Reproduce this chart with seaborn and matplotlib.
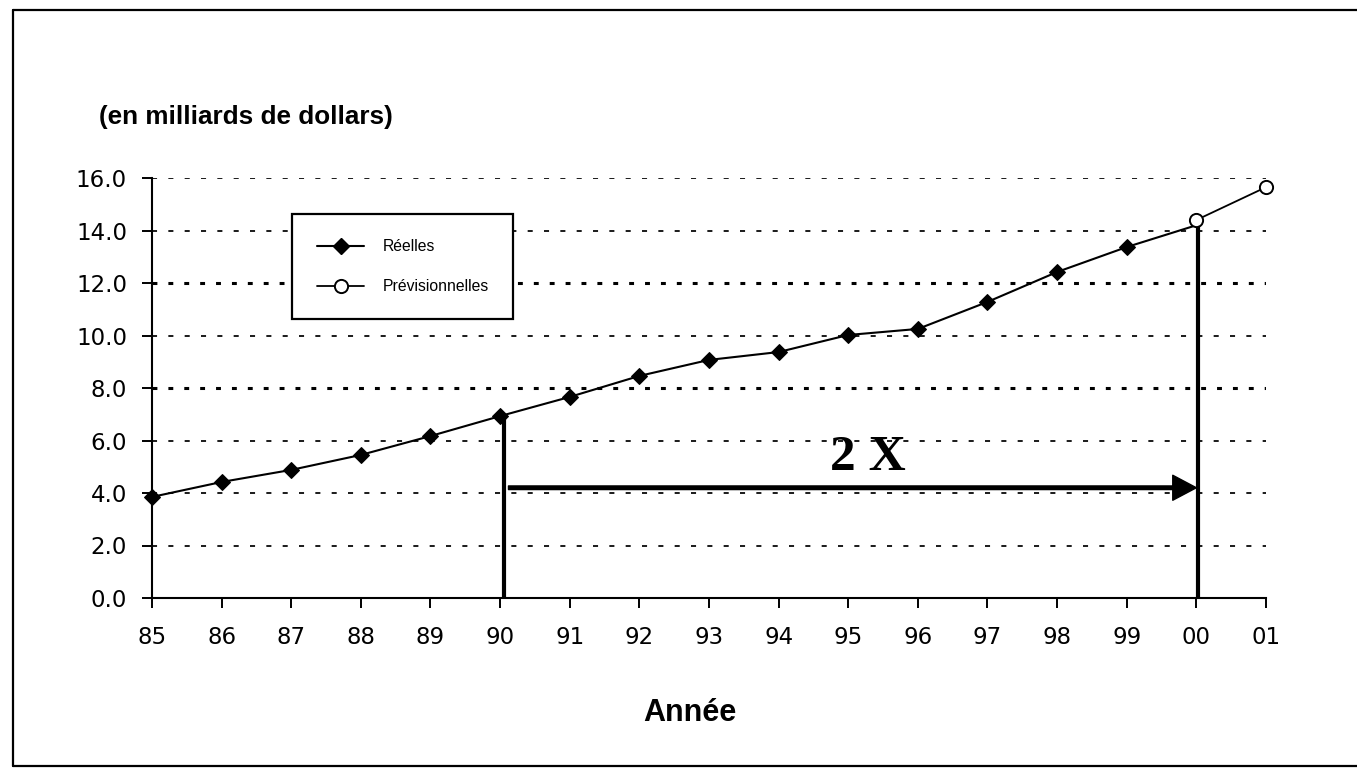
import numpy as np
import pandas as pd
import matplotlib
matplotlib.use("Agg")
import matplotlib.pyplot as plt
from matplotlib.lines import Line2D
import seaborn as sns

# ---------------- data ----------------
years = ["85", "86", "87", "88", "89", "90", "91", "92", "93", "94",
         "95", "96", "97", "98", "99", "00", "01"]
reelles = [3.85, 4.42, 4.88, 5.45, 6.17, 6.93, 7.66, 8.46, 9.07, 9.37,
           10.02, 10.25, 11.28, 12.42, 13.37, 14.2]
previsionnelles_years = ["00", "01"]
previsionnelles = [14.4, 15.65]
y_ticks = [0, 2, 4, 6, 8, 10, 12, 14, 16]
arrow_from, arrow_to = "90", "00"
arrow_level = 4.2
label_real = "Réelles"
label_prev = "Prévisionnelles"

# ---------------- style ----------------
sns.set_style("white")
plt.rcParams["font.family"] = ["DejaVu Sans"]
plt.rcParams["text.color"] = "black"
plt.rcParams["xtick.color"] = "black"
plt.rcParams["ytick.color"] = "black"

W, H = 1357, 770
fig = plt.figure(figsize=(W / 100, H / 100), dpi=100)
ax = fig.add_axes([152 / W, (H - 598) / H, (1266 - 152) / W, 420 / H])

pos = {y: i for i, y in enumerate(years)}
df_real = pd.DataFrame({"x": [pos[y] for y in years[:len(reelles)]], "v": reelles})
df_prev = pd.DataFrame({"x": [pos[y] for y in previsionnelles_years], "v": previsionnelles})

# gridlines
for t in y_ticks[1:]:
    if t in (8, 12):
        ax.axhline(t, color="black", lw=2.2, ls=(0, (1.6, 3.6)), zorder=1)
    else:
        ax.axhline(t, color="#1a1a1a", lw=1.4, ls=(0, (2.6, 5.8)), zorder=1)

# vertical guide lines and arrow
i0, i1 = pos[arrow_from], pos[arrow_to]
ax.plot([i0 + 0.05, i0 + 0.05], [0, reelles[i0]], color="black", lw=3, zorder=3,
        solid_capstyle="butt")
ax.plot([i1 + 0.03, i1 + 0.03], [0, reelles[i1]], color="black", lw=3, zorder=3,
        solid_capstyle="butt")
ax.annotate("", xy=(i1, arrow_level), xytext=(i0 + 0.12, arrow_level),
            arrowprops=dict(facecolor="black", edgecolor="black", width=2.6,
                            headwidth=18, headlength=17, shrink=0),
            zorder=4)
ax.text((i0 + i1) / 2 + 0.28, 4.88, "2 X", family="Liberation Serif",
        fontweight="bold", fontsize=37, ha="center", va="baseline", zorder=5,
        color="black")

# data series
sns.lineplot(data=df_real, x="x", y="v", ax=ax, color="black", lw=1.5,
             marker="D", markersize=8.5, markevery=list(range(len(reelles) - 1)),
             markerfacecolor="black", markeredgecolor="black", clip_on=False,
             zorder=6, legend=False)
sns.lineplot(data=df_prev, x="x", y="v", ax=ax, color="black", lw=1.3,
             marker="o", markersize=9.5, markerfacecolor="white",
             markeredgecolor="black", markeredgewidth=1.4, clip_on=False,
             zorder=7, legend=False)

# axes
ax.set_xlim(0, len(years) - 1)
ax.set_ylim(0, 16)
ax.set_xticks(range(len(years)))
ax.set_xticklabels(years)
ax.set_yticks(y_ticks)
ax.set_yticklabels([f"{t:.1f}" for t in y_ticks])
ax.set_xlabel("")
ax.set_ylabel("")
for s in ("top", "right"):
    ax.spines[s].set_visible(False)
for s in ("left", "bottom"):
    ax.spines[s].set_color("black")
    ax.spines[s].set_linewidth(1.5)
ax.tick_params(axis="both", direction="out", length=7, width=1.4, color="black",
               labelsize=16.5, labelcolor="black", left=True, bottom=True)
ax.tick_params(axis="y", pad=11)
ax.tick_params(axis="x", pad=13)
ax.grid(False)

# legend
handles = [
    Line2D([], [], color="black", lw=1.5, marker="D", markersize=8.5,
           markerfacecolor="black"),
    Line2D([], [], color="black", lw=1.3, marker="o", markersize=9.5,
           markerfacecolor="white", markeredgewidth=1.4),
]
leg = ax.legend(handles, [label_real, label_prev], loc="upper left",
                bbox_to_anchor=(292 / W, 1 - 214 / H - 0.01, 221 / W, 0.01),
                bbox_transform=fig.transFigure, mode="expand",
                prop={"family": "Liberation Sans", "size": 11.3},
                frameon=True, fancybox=False, framealpha=1.0,
                borderpad=1.6, labelspacing=1.6,
                handlelength=3.0, handletextpad=1.2, borderaxespad=0)
leg.get_frame().set_edgecolor("black")
leg.get_frame().set_facecolor("white")
leg.get_frame().set_linewidth(1.6)
for txt in leg.get_texts():
    txt.set_color("black")
leg.set_zorder(10)

# texts
fig.text(99 / W, 1 - 124 / H, "(en milliards de dollars)", family="Liberation Sans",
         fontweight="bold", fontsize=18.8, ha="left", va="baseline", color="black")
fig.text(690 / W, 1 - 721 / H, "Année", family="Liberation Sans",
         fontweight="bold", fontsize=22, ha="center", va="baseline", color="black")

# outer frame
for xs, ys in (([12.5, 12.5], [9.5, 766]), ([12.5, W + 5], [9.5, 9.5]),
               ([12.5, W + 5], [766, 766])):
    fig.add_artist(Line2D([x / W for x in xs], [1 - y / H for y in ys],
                          transform=fig.transFigure, color="black", lw=1.6))

fig.savefig("out.png", dpi=100, facecolor="white")
